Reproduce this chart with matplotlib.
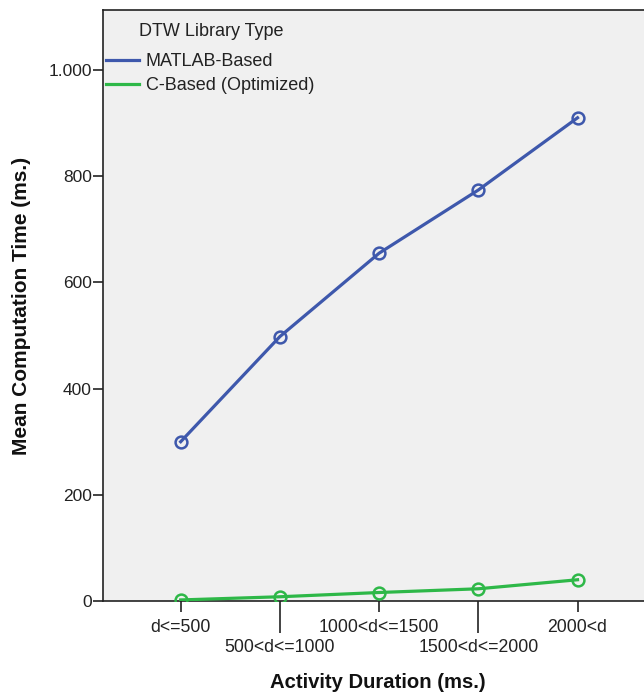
import matplotlib
matplotlib.use("Agg")
import matplotlib.pyplot as plt
from matplotlib.ticker import FuncFormatter, FixedLocator
from matplotlib.lines import Line2D

plt.rcParams["font.family"] = ["Liberation Sans", "DejaVu Sans"]

# Activity duration bins and mean computation times (ms)
categories = ["d<=500", "500<d<=1000", "1000<d<=1500", "1500<d<=2000", "2000<d"]
matlab_based = [300, 498, 655, 774, 910]
c_based = [2, 8, 16, 23, 40]
series_names = ["MATLAB-Based", "C-Based (Optimized)"]
legend_title = "DTW Library Type"
y_ticks = [0, 200, 400, 600, 800, 1000]

BLUE = "#3E58AC"
GREEN = "#2EB848"
INK = "#222222"

W, H = 644, 694
fig = plt.figure(figsize=(W / 100, H / 100), dpi=100)
ax = fig.add_axes([103 / W, 93 / H, 1 - 103 / W, 591 / H])
ax.set_facecolor("#F0F0F0")

x = list(range(len(categories)))
for vals, color in ((matlab_based, BLUE), (c_based, GREEN)):
    ax.plot(x, vals, color=color, lw=2.3, marker="o", ms=8.5,
            mfc="none", mec=color, mew=1.8, zorder=3)

ax.set_xlim(-0.783, 4.67)
ax.set_ylim(0, 1113)

# Spines
for side in ("left", "bottom", "top"):
    ax.spines[side].set_color(INK)
    ax.spines[side].set_linewidth(1.2)
ax.spines["right"].set_visible(False)

# Y axis with dotted thousands separator
ax.yaxis.set_major_locator(FixedLocator(y_ticks))
ax.yaxis.set_major_formatter(FuncFormatter(lambda v, p: f"{int(v):,}".replace(",", ".")))
ax.tick_params(axis="y", direction="out", length=7, width=1.2, color=INK,
               labelsize=12.5, labelcolor=INK, pad=1)

# X axis: alternate short/long ticks so the labels stagger on two rows
ax.xaxis.set_major_locator(FixedLocator(x[0::2]))
ax.xaxis.set_minor_locator(FixedLocator(x[1::2]))
ax.set_xticklabels(categories[0::2])
ax.set_xticklabels(categories[1::2], minor=True)
ax.tick_params(axis="x", which="major", direction="out", length=8, width=1.2,
               color=INK, labelsize=12.7, labelcolor=INK, pad=5)
ax.tick_params(axis="x", which="minor", direction="out", length=23, width=1.2,
               color=INK, labelsize=12.7, labelcolor=INK, pad=4.5)

ax.set_xlabel("Activity Duration (ms.)", fontsize=14.6, fontweight="bold",
              color="#111111")
ax.xaxis.set_label_coords(0.508, -0.122)
ax.set_ylabel("Mean Computation Time (ms.)", fontsize=15, fontweight="bold",
              color="#111111")
ax.yaxis.set_label_coords(-0.134, 0.5)

# Legend: title drawn separately, entries listed beneath it
fig.text(211 / W, 1 - 31 / H, legend_title, fontsize=13, color=INK,
         ha="center", va="center")
handles = [Line2D([0], [0], color=BLUE, lw=2.3), Line2D([0], [0], color=GREEN, lw=2.3)]
leg = fig.legend(handles, series_names, loc="upper left",
                 bbox_to_anchor=(106 / W, 1 - 53.5 / H), frameon=False,
                 fontsize=13, handlelength=1.85, handletextpad=0.35,
                 labelspacing=0.36, borderpad=0, borderaxespad=0)
for t in leg.get_texts():
    t.set_color(INK)

fig.savefig("out.png", dpi=100, facecolor="white")
